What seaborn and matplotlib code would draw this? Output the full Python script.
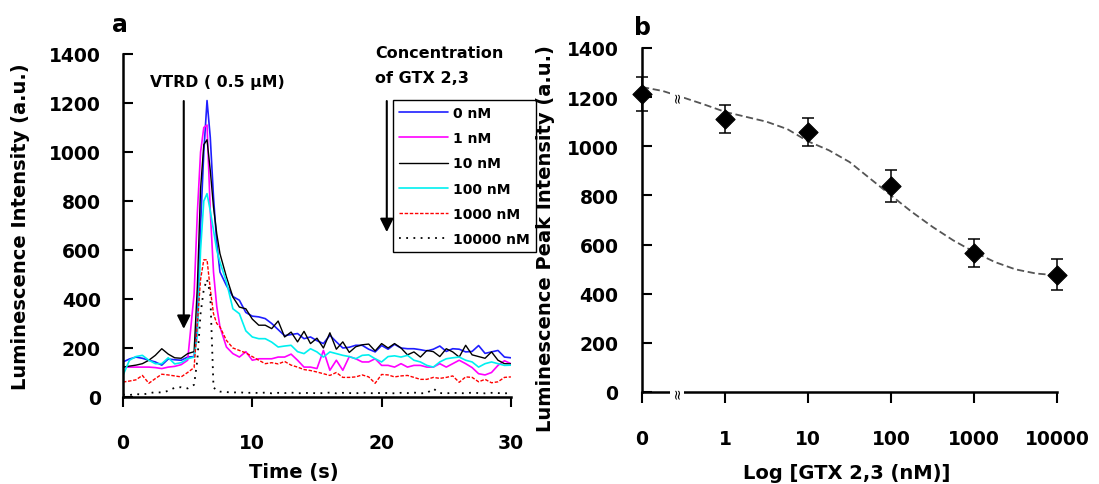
import matplotlib
matplotlib.use("Agg")
import matplotlib.pyplot as plt
import seaborn as sns
import pandas as pd

sns.set_style("white")
plt.rcParams['font.family'] = ['DejaVu Sans']
plt.rcParams['font.weight'] = 'bold'
plt.rcParams['axes.labelweight'] = 'bold'
for k in ['text.color', 'axes.labelcolor', 'xtick.color', 'ytick.color', 'axes.edgecolor']:
    plt.rcParams[k] = 'black'

# ---------------- Panel a data ----------------
time_s = [0, 0.5, 1, 1.5, 2, 2.5, 3, 3.5, 4, 4.5, 5, 5.5,
          5.75, 6, 6.25, 6.5, 6.75, 7, 7.25, 7.5,
          8, 8.5, 9, 9.5, 10, 10.5, 11, 11.5, 12, 12.5, 13, 13.5, 14, 14.5,
          15, 15.5, 16, 16.5, 17, 17.5, 18, 18.5, 19, 19.5, 20, 20.5, 21,
          21.5, 22, 22.5, 23, 23.5, 24, 24.5, 25, 25.5, 26, 26.5, 27, 27.5,
          28, 28.5, 29, 29.5, 30]

trace_0nM = [143, 155, 163, 158, 150, 143, 130, 155, 152, 150, 163, 165,
             300, 700, 1000, 1210, 1060, 816, 630, 510,
             455, 410, 395, 345, 330,
             327, 320, 300, 275, 250, 255, 259, 238, 245, 230, 218, 252, 225, 200, 203, 211, 211, 195, 184, 210,
             195, 215, 200, 197, 197, 193, 188, 195, 208, 186, 197, 195, 184, 186, 210, 178, 184, 190, 163, 160]
trace_1nM = [122, 122, 122, 122, 122, 120, 116, 122, 125, 132, 150, 420,
             750, 1000, 1100, 1110, 760, 510, 370, 286,
             204, 177, 163, 185, 150,
             156, 156, 156, 163, 163, 175, 150, 122, 122, 116, 190, 109, 150, 109, 165, 156, 143, 143, 156, 129,
             129, 122, 136, 122, 129, 129, 122, 122, 136, 122, 136, 150, 136, 120, 95, 90, 100, 129, 148, 136]
trace_10nM = [122, 126, 130, 136, 150, 170, 197, 175, 160, 158, 177, 185,
              450, 850, 1030, 1050, 925, 775, 667, 585,
              490, 408, 367, 360, 318,
              293, 293, 279, 310, 245, 265, 225, 268, 218, 240, 200, 262, 195, 225, 182, 205, 213, 216, 188, 218,
              200, 218, 200, 172, 184, 163, 190, 185, 165, 197, 184, 163, 211, 172, 165, 158, 184, 150, 136, 135]
trace_100nM = [88, 150, 165, 170, 150, 136, 136, 160, 135, 140, 156, 163,
               250, 600, 800, 830, 760, 680, 600, 550,
               470, 360, 340, 270, 245,
               238, 238, 224, 204, 208, 211, 185, 177, 197, 184, 163, 184, 177, 170, 165, 156, 170, 172, 156, 143,
               165, 168, 163, 170, 150, 143, 129, 122, 143, 156, 160, 163, 150, 143, 122, 136, 143, 136, 129, 130]
trace_1000nM = [61, 65, 70, 88, 56, 75, 93, 90, 86, 82, 100, 120,
                300, 480, 560, 560, 440, 340, 300, 286,
                231, 200, 190, 180, 165,
                150, 136, 140, 135, 145, 130, 122, 112, 108, 102, 95, 88, 100, 80, 80, 82, 90, 82, 56, 92,
                90, 82, 86, 88, 80, 72, 72, 80, 76, 80, 86, 60, 82, 80, 62, 72, 58, 62, 80, 82]
trace_10000nM = [10, 8, 12, 10, 15, 20, 18, 25, 38, 40, 35, 50,
                 150, 340, 440, 480, 420, 40, 25, 22,
                 20, 18, 20, 16, 18,
                 16, 18, 15, 17, 16, 18, 15, 16, 17, 15, 16, 18, 15, 17, 16, 15, 18, 16, 15, 17,
                 16, 15, 17, 16, 18, 15, 16, 34, 16, 15, 17, 16, 15, 18, 16, 15, 17, 16, 15, 16]

series_labels = ["0 nM", "1 nM", "10 nM", "100 nM", "1000 nM", "10000 nM"]
series_values = [trace_0nM, trace_1nM, trace_10nM, trace_100nM, trace_1000nM, trace_10000nM]

# ---------------- Panel b data ----------------
conc_labels = ["0", "1", "10", "100", "1000", "10000"]
peak_mean = [1212, 1113, 1057, 838, 565, 478]
peak_err = [70, 57, 57, 66, 58, 63]
fit_pos = [0, 0.25, 0.5, 0.75, 1.0, 1.25, 1.5, 1.75, 2.0, 2.25, 2.5, 2.75,
           3.0, 3.25, 3.5, 3.75, 4.0, 4.25, 4.5, 4.75, 5.0]
fit_val = [1241, 1225, 1198, 1170, 1140, 1120, 1100, 1070, 1020, 984, 936, 868,
           800, 733, 672, 617, 570, 529, 499, 482, 475]

styles = [
    dict(color='#1f1fff', lw=1.2, ls='-'),
    dict(color='#ff00ff', lw=1.2, ls='-'),
    dict(color='#000000', lw=1.0, ls='-'),
    dict(color='#00f0f0', lw=1.2, ls='-'),
    dict(color='#ff0000', lw=1.0, ls=(0, (2.5, 1.2))),
    dict(color='#000000', lw=1.3, ls=(0, (1, 3))),
]

fig = plt.figure(figsize=(10.99, 4.85), dpi=100)
axa = fig.add_axes([0.1119, 0.1794, 0.353, 0.7072])
axb = fig.add_axes([0.5842, 0.1897, 0.3776, 0.7093])

tick_fs = 13.5
for lab, vals, st in zip(series_labels, series_values, styles):
    df = pd.DataFrame({"t": time_s, "v": vals})
    sns.lineplot(data=df, x="t", y="v", ax=axa, color=st['color'], lw=st['lw'],
                 linestyle=st['ls'], label=lab, sort=False)

axa.set_xlim(0, 30)
axa.set_ylim(0, 1400)
axa.set_xticks([0, 10, 20, 30])
axa.set_yticks(range(0, 1401, 200))
for s in ['top', 'right']:
    axa.spines[s].set_visible(False)
for s in ['left', 'bottom']:
    axa.spines[s].set_linewidth(1.8)
    axa.spines[s].set_color('black')
axa.tick_params(axis='y', direction='in', length=7, width=1.5, pad=16, labelsize=tick_fs, left=True)
axa.tick_params(axis='x', direction='out', length=7, width=1.5, pad=19, labelsize=tick_fs, bottom=True)
axa.set_xlabel("Time (s)", fontsize=14, fontweight='bold')
axa.set_ylabel("Luminescence Intensity (a.u.)", fontsize=14, fontweight='bold')
axa.xaxis.set_label_coords(0.44, -0.19)
axa.yaxis.set_label_coords(-0.24, 0.5)

leg = axa.legend(loc='upper left', bbox_to_anchor=(0.696, 0.866), borderaxespad=0,
                 fontsize=10, handlelength=3.5, handletextpad=0.35, labelspacing=0.8,
                 borderpad=0.45, fancybox=False, framealpha=1, edgecolor='black')
leg.get_frame().set_linewidth(1.0)
for txt in leg.get_texts():
    txt.set_fontweight('bold')

axa.text(2.1, 1286, "VTRD ( 0.5 μM)", fontsize=11.3, fontweight='bold', va='center', ha='left')
axa.annotate("", xy=(4.7, 278), xytext=(4.7, 1208),
             arrowprops=dict(arrowstyle='-|>', lw=1.5, color='black', mutation_scale=20,
                             shrinkA=0, shrinkB=0))
axa.text(19.5, 1408, "Concentration", fontsize=11.5, fontweight='bold', va='center', ha='left', clip_on=False)
axa.text(19.5, 1306, "of GTX 2,3", fontsize=11.5, fontweight='bold', va='center', ha='left')
axa.annotate("", xy=(20.4, 673), xytext=(20.4, 1208),
             arrowprops=dict(arrowstyle='-|>', lw=1.5, color='black', mutation_scale=20,
                             shrinkA=0, shrinkB=0))

# ---------------- Panel b ----------------
pos = list(range(len(conc_labels)))
fit_df = pd.DataFrame({"x": fit_pos, "y": fit_val})
sns.lineplot(data=fit_df, x="x", y="y", ax=axb, color='#555555', lw=1.3,
             linestyle=(0, (4, 2)), sort=False)
axb.errorbar(pos, peak_mean, yerr=peak_err, fmt='none', ecolor='black', elinewidth=1.1,
             capsize=4, capthick=1.1, clip_on=False, zorder=3)
pts = pd.DataFrame({"x": pos, "y": peak_mean})
sns.scatterplot(data=pts, x="x", y="y", ax=axb, marker='D', s=95, color='black',
                edgecolor='black', zorder=4, clip_on=False)

axb.set_xlim(0, 5)
axb.set_ylim(0, 1400)
axb.set_xticks(pos)
axb.set_xticklabels(conc_labels)
axb.set_yticks(range(0, 1401, 200))
for s in ['top', 'right']:
    axb.spines[s].set_visible(False)
for s in ['left', 'bottom']:
    axb.spines[s].set_linewidth(1.8)
    axb.spines[s].set_color('black')
axb.tick_params(axis='y', direction='in', length=7, width=1.5, pad=17, labelsize=tick_fs, left=True)
axb.tick_params(axis='x', direction='out', length=8, width=1.5, pad=19, labelsize=tick_fs, bottom=True)
axb.set_xlabel("Log [GTX 2,3 (nM)]", fontsize=14, fontweight='bold')
axb.set_ylabel("Luminescence Peak Intensity (a.u.)", fontsize=14, fontweight='bold')
axb.xaxis.set_label_coords(0.494, -0.205)
axb.yaxis.set_label_coords(-0.21, 0.45)

# axis break marks
for yv in [1205, 0]:
    axb.text(0.42, yv, "≈", rotation=90, fontsize=10, fontweight='normal', ha='center', va='center',
             clip_on=False, zorder=5,
             bbox=dict(facecolor='white', edgecolor='none', pad=0.2))

fig.text(120 / 1099, 1 - 25 / 485, "a", fontsize=17, fontweight='bold', ha='center', va='center')
fig.text(643 / 1099, 1 - 28 / 485, "b", fontsize=17, fontweight='bold', ha='center', va='center')

fig.savefig("out.png", dpi=100, facecolor='white')
